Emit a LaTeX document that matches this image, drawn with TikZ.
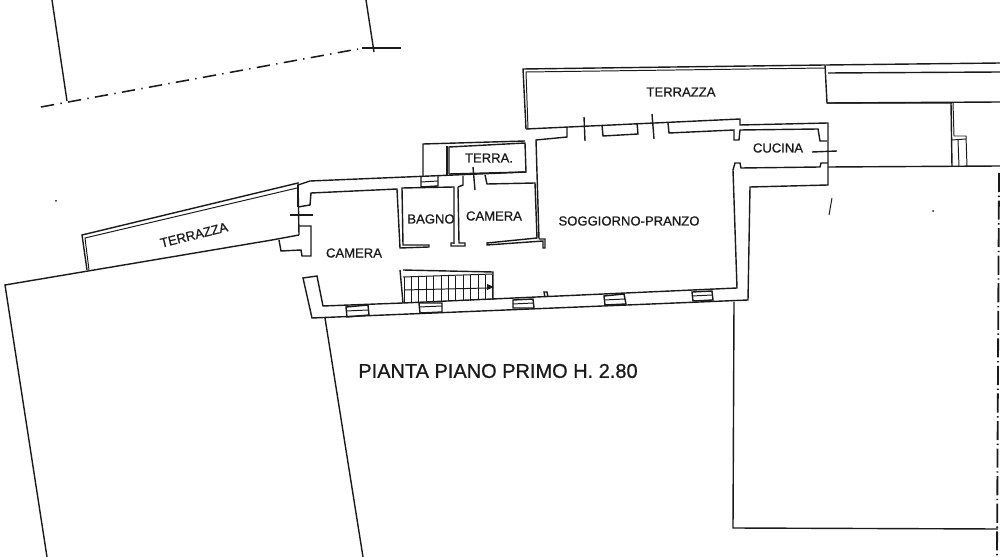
\documentclass[tikz,border=0pt]{standalone}
\usepackage{fontspec}
\setmainfont{Liberation Sans}
\newfontfamily\plotfont[FakeBold=0.8]{Liberation Sans}
\definecolor{MInk}{HTML}{1A1A1A}
\tikzset{
	wall/.style={MInk, line width=1pt, line join=miter},
	thinwall/.style={MInk, line width=0.7pt},
	border/.style={MInk, line width=1.1pt, dash pattern=on 9.5pt off 4.5pt on 1pt off 4.5pt},
	edgeline/.style={MInk, line width=1.3pt, dash pattern=on 13.6pt off 2.5pt on 1pt off 2.5pt},
	roomlabel/.style={MInk, font=\plotfont\fontsize{9.3}{11}\selectfont, inner sep=0pt},
}

\begin{document}
\begin{tikzpicture}[x=0.025cm,y=-0.025cm]
	\useasboundingbox (0,0) rectangle (1000,557);
	% neighbouring plots
	\draw[wall] (52,0) -- (67,101);
	\draw[wall] (366,0) -- (374,52);
	\draw[wall] (362,48) -- (401,48);
	\draw[border] (41,107) -- (358,49);
	\draw[wall] (47,557) -- (5,285) -- (272,240) -- (299,235);
	\draw[wall] (325,318) -- (363,557);
	\draw[wall] (734,302) -- (733,528) -- (998,529);
	\draw[edgeline] (999,173) -- (997,557);
	\draw[wall] (828,167) -- (1000,166);

	% left terrace
	\draw[wall] (87,270) -- (82,235) -- (298,183) -- (299,235);
	\draw[thinwall] (89,270) -- (85,238) -- (297,188);

	% upper terrace and the buildings on its right
	\draw[wall] (526,129) -- (523,69) -- (825,65) -- (827,103) -- (952,103);
	\draw[thinwall] (528,129) -- (526,72) -- (825,68);
	\draw[wall] (827,103) -- (1000,102);
	\draw[wall] (826,65) -- (1000,63);
	\draw[wall] (828,73) -- (1000,72);
	\draw[wall] (951,103) -- (952,167);
	\draw[thinwall] (953,103) -- (954,136) -- (966,136) -- (967,167);
	\draw[thinwall] (952,140) -- (966,139);
	\draw[thinwall] (958,140) -- (959,167);

	% small terrace
	\draw[wall] (423,176) -- (423,144) -- (525,141);
	\draw[wall] (447,175) -- (447,146);
	\draw[wall] (449,174) -- (449,147) -- (525,143) -- (526,172) -- (449,174);

	% outer wall, top
	\draw[wall] (298,185) -- (310,181) -- (526,172);
	\draw[wall] (526,129) -- (740,119) -- (740,125) -- (828,123) -- (828,185) -- (750,187) -- (748,300) -- (312,318) -- (303,278) -- (317,276) -- (323,306) -- (403,303);
	\draw[wall] (403,303) -- (737,288) -- (733,170) -- (735,163) -- (740,163) -- (741,168) -- (820,167) -- (821,163) -- (828,163);

	% top wall, inner side
	\draw[wall] (539,239) -- (536,140) -- (567,137) -- (567,128);
	\draw[wall] (602,125) -- (603,136) -- (638,134) -- (637,123);
	\draw[wall] (668,123) -- (669,133) -- (734,130) -- (734,140) -- (739,140) -- (740,130) -- (818,129) -- (820,141) -- (827,141);

	% door ticks
	\draw[wall] (584,117) -- (585,141);
	\draw[wall] (652,114) -- (654,139);
	\draw[wall] (812,152) -- (837,151);
	\draw[wall] (473,167) -- (475,190);
	\draw[wall] (290,215) -- (313,215);

	% left room
	\draw[wall] (298,207) -- (310,205) -- (311,193) -- (397,189) -- (400,248) -- (429,247) -- (429,245) -- (403,245) -- (402,188) -- (454,187) -- (454,244);
	\draw[wall] (298,185) -- (298,207);
	\draw[wall] (299,226) -- (311,226) -- (311,256) -- (302,256) -- (301,250) -- (281,251) -- (279,240);
	\draw[wall] (458,187) -- (459,243) -- (465,243) -- (465,246) -- (451,246) -- (451,243) -- (454,243);
	\draw[wall] (458,187) -- (463,185) -- (463,176);

	% right bedroom
	\draw[wall] (485,175) -- (487,184) -- (535,183) -- (537,238) -- (487,243) -- (487,245) -- (543,241) -- (543,248) -- (545,248) -- (545,239) -- (539,239);

	% bump in the wall
	\draw[wall] (545,297) -- (544,292) -- (547,292) -- (548,297);

	% windows
	\draw[wall] (421,177) -- (421,187) -- (438,186) -- (438,176);
	\draw[thinwall] (421,182) -- (438,181);
	\draw[wall] (346,307) -- (347,317) -- (369,315) -- (368,305) -- cycle;
	\draw[thinwall] (346,311) -- (368,310);
	\draw[wall] (419,303) -- (420,313) -- (442,312) -- (442,303) -- cycle;
	\draw[thinwall] (419,307) -- (442,306);
	\draw[wall] (513,300) -- (513,308) -- (534,308) -- (533,299) -- cycle;
	\draw[thinwall] (513,304) -- (533,303);
	\draw[wall] (604,296) -- (605,305) -- (626,304) -- (624,294) -- cycle;
	\draw[thinwall] (604,300) -- (625,299);
	\draw[wall] (692,292) -- (693,301) -- (713,300) -- (712,291) -- cycle;
	\draw[thinwall] (692,296) -- (712,295);

	% stairs
	\draw[wall] (400,270) -- (403,303);
	\draw[wall] (403,270) -- (493,272) -- (493,300);
	\draw[thinwall] (403,277) -- (493,274);
	\draw[thinwall] (404,290) -- (487,288);
	\foreach \i in {0,...,12} {
		\draw[thinwall] ({404+7.4*\i},{277-0.2*\i}) -- ({404+7.4*\i},{303-0.25*\i});
	}
	\fill[MInk] (494,287) -- (487,284) -- (487,290) -- cycle;

	% stray marks
	\draw[thinwall] (832,198) -- (829,215);
	\fill[MInk] (933,211) circle (1);
	\fill[MInk] (56,201) circle (1);

	% labels
	\node[roomlabel] (terrazzatop) at (681,92) {TERRAZZA};
	\node[roomlabel, rotate=14] (terrazzaleft) at (194,235) {TERRAZZA};
	\node[roomlabel] (terra) at (489,158) {TERRA.};
	\node[roomlabel] (cucina) at (778,148) {CUCINA};
	\node[roomlabel] (bagno) at (431,219) {BAGNO};
	\node[roomlabel] (cameraright) at (494,216) {CAMERA};
	\node[roomlabel] (cameraleft) at (354,253) {CAMERA};
	\node[roomlabel] (soggiorno) at (629,221) {SOGGIORNO-PRANZO};
	\node[MInk, font=\plotfont\fontsize{14.2}{16}\selectfont, inner sep=0pt] (title) at (498,371) {PIANTA PIANO PRIMO H. 2.80};
\end{tikzpicture}
\end{document}
